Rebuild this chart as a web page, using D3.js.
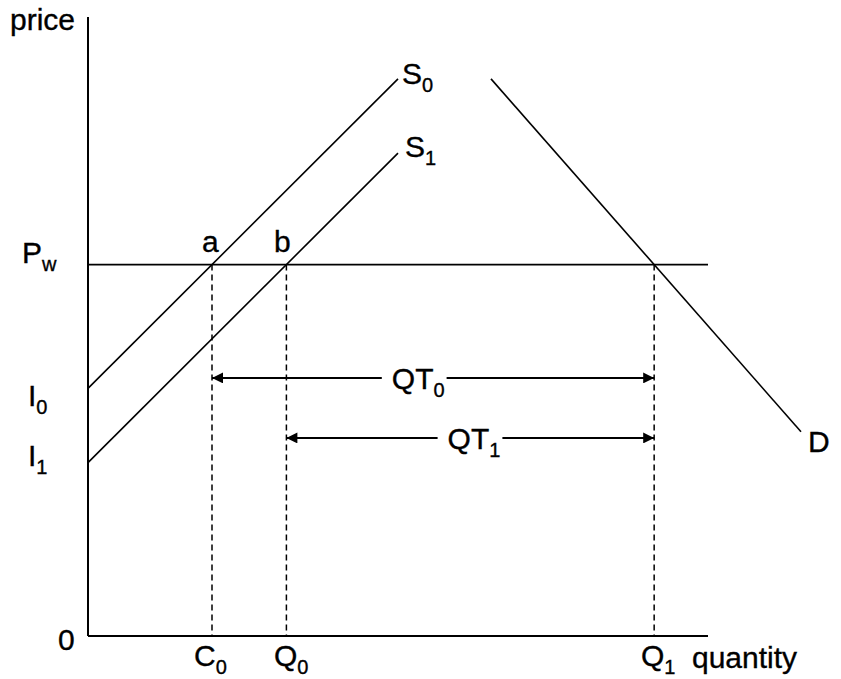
<!DOCTYPE html>
<html>
<head>
<meta charset="utf-8">
<script src="https://cdn.jsdelivr.net/npm/d3@7"></script>
<style>
html,body{margin:0;padding:0;background:#fff;}
svg{display:block;}
text{font-family:"Liberation Sans",Arial,sans-serif;fill:#000;stroke:#000;stroke-width:0.35px;}
</style>
</head>
<body>
<svg id="chart" width="841" height="679"></svg>
<script>
// ---- data (conceptual units: quantity 0..100, price 0..100) ----
const worldPrice = 60;                 // P_w
const supply0 = [[0, 40], [50, 90]];   // S0, intercept I0
const supply1 = [[0, 28], [50, 78]];   // S1, intercept I1
const demand = [[65, 90], [115, 33]];  // D
const tradeArrows = [
  {name: "QT", sub: "0", from: "C0", y: 41.7, labelAt: 49},
  {name: "QT", sub: "1", from: "Q0", y: 32, labelAt: 58}
];
const axisLabels = {y: "price", x: "quantity", origin: "0"};

// ---- scales ----
const x = d3.scaleLinear().domain([0, 100]).range([88, 708]);
const y = d3.scaleLinear().domain([0, 100]).range([636, 17]);
const svg = d3.select("#chart");

function xAtPrice(seg, p) {
  const [[x1, y1], [x2, y2]] = seg;
  return x1 + (p - y1) * (x2 - x1) / (y2 - y1);
}
const C0 = xAtPrice(supply0, worldPrice);
const Q0 = xAtPrice(supply1, worldPrice);
const Q1 = xAtPrice(demand, worldPrice);
const qpos = {C0, Q0, Q1};

const defs = svg.append("defs");
["arrowEnd", "arrowStart"].forEach((id, i) => {
  defs.append("marker").attr("id", id)
    .attr("viewBox", "0 0 10 10").attr("refX", 10).attr("refY", 5)
    .attr("markerWidth", 14).attr("markerHeight", 11)
    .attr("markerUnits", "userSpaceOnUse")
    .attr("orient", i === 0 ? "auto" : "auto-start-reverse")
    .append("path").attr("d", "M0,0 L10,5 L0,10 Z").attr("fill", "#000");
});

const line = d3.line().x(d => x(d[0])).y(d => y(d[1]));

// dashed verticals
[C0, Q0, Q1].forEach(q => {
  svg.append("line")
    .attr("x1", x(q)).attr("x2", x(q))
    .attr("y1", y(worldPrice)).attr("y2", y(0))
    .attr("stroke", "#000").attr("stroke-width", 1.5)
    .attr("stroke-dasharray", "6,4");
});

// world price line
svg.append("line")
  .attr("x1", x(0)).attr("x2", x(100))
  .attr("y1", y(worldPrice)).attr("y2", y(worldPrice))
  .attr("stroke", "#000").attr("stroke-width", 1.6);

// curves
[supply0, supply1, demand].forEach(seg => {
  svg.append("path").attr("d", line(seg))
    .attr("fill", "none").attr("stroke", "#000").attr("stroke-width", 1.6);
});

// axes
svg.append("line").attr("x1", x(0)).attr("x2", x(0)).attr("y1", y(100)).attr("y2", y(0))
  .attr("stroke", "#000").attr("stroke-width", 2);
svg.append("line").attr("x1", x(0)).attr("x2", x(100)).attr("y1", y(0)).attr("y2", y(0))
  .attr("stroke", "#000").attr("stroke-width", 2.2);

// helper for subscripted labels
const FS = 30, SFS = 20;
function label(txt, sub, px, py, anchor) {
  const t = svg.append("text").attr("x", px).attr("y", py)
    .attr("font-size", FS).attr("text-anchor", anchor || "start");
  t.append("tspan").text(txt);
  if (sub) t.append("tspan").attr("font-size", SFS).attr("dy", 8).text(sub);
  return t;
}

// trade arrows
tradeArrows.forEach(a => {
  const x1 = x(qpos[a.from]), x2 = x(Q1), yy = y(a.y);
  svg.append("line").attr("x1", x1).attr("x2", x2).attr("y1", yy).attr("y2", yy)
    .attr("stroke", "#000").attr("stroke-width", 2)
    .attr("marker-end", "url(#arrowEnd)").attr("marker-start", "url(#arrowStart)");
  const t = label(a.name, a.sub, x(a.labelAt), yy + 11, "start");
  const bb = t.node().getBBox();
  svg.insert("rect", () => t.node()).attr("x", bb.x - 10).attr("y", yy - 3)
    .attr("width", bb.width + 12).attr("height", 6).attr("fill", "#fff");
});

// text labels
label(axisLabels.y, null, 10, 30);
label(axisLabels.x, null, 692, 668);
label(axisLabels.origin, null, 58, 650);
label("P", "w", 22, 263);
label("I", "0", 28, 406);
label("I", "1", 28, 466);
label("a", null, 202, 252);
label("b", null, 274, 252);
label("S", "0", 402, 84);
label("S", "1", 405, 157);
label("D", null, 808, 452);
label("C", "0", 194, 666);
label("Q", "0", 274, 666);
label("Q", "1", 641, 666);
</script>
</body>
</html>
